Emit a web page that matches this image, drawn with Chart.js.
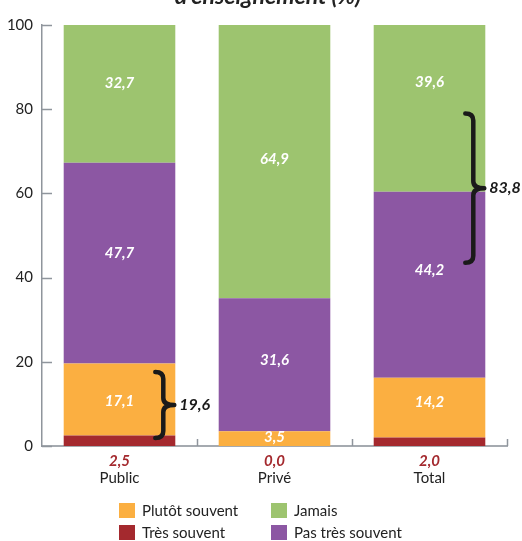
<!DOCTYPE html>
<html lang="fr">
<head>
<meta charset="UTF-8">
<title>Fréquence par secteur d'enseignement (%)</title>
<script src="https://cdn.jsdelivr.net/npm/chart.js"></script>
<style>
    body { margin: 0; background: #fff; font-family: Lato, "Open Sans", sans-serif; }
    #wrap { position: relative; width: 522px; height: 541px; overflow: hidden; }
    #chart { position: absolute; left: 0; top: 0; }
    .legend { position: absolute; left: 0; top: 0; }
    .item { position: absolute; font-size: 15px; color: #222; line-height: 16px; white-space: nowrap; }
    .item span { position: absolute; left: 0; top: 0; width: 16px; height: 15px; }
    .item b { font-weight: normal; position: absolute; left: 23px; top: -1px; }
</style>
</head>
<body>
<div id="wrap">
    <canvas id="chart" width="522" height="541"></canvas>
    <div class="legend" id="legend"></div>
</div>
<script>
// données
const categories = ['Public', 'Privé', 'Total'];
const seriesNames = ['Très souvent', 'Plutôt souvent', 'Pas très souvent', 'Jamais'];
const tresSouvent = [2.5, 0.0, 2.0];
const plutotSouvent = [17.1, 3.5, 14.2];
const pasTresSouvent = [47.7, 31.6, 44.2];
const jamais = [32.7, 64.9, 39.6];
const braceTotals = [19.6, null, 83.8];
const yTicks = [0, 20, 40, 60, 80, 100];

const colors = ['#A4292E', '#FBAF41', '#8C57A3', '#9DC46F'];
const FONT = 'Lato, "Open Sans", sans-serif';
const fmt = v => v.toFixed(1).replace('.', ',');

// petits décalages des étiquettes (px), comme sur l'original
const labelNudge = [null, [2, -1, -6], [-10, -5, -15], [-11, -2, -26]];
// étendue des accolades (en valeurs de l'axe y)
const braceSpan = [[1.9, 17.6], null, [43.5, 79]];

const decorPlugin = {
    id: 'decor',
    afterDraw(chart) {
        const ctx = chart.ctx;
        const x = chart.scales.x, y = chart.scales.y;
        const area = chart.chartArea;
        ctx.save();

        // titre (coupé en haut)
        ctx.fillStyle = '#222';
        ctx.font = 'italic bold 23px ' + FONT;
        ctx.textAlign = 'center';
        ctx.textBaseline = 'alphabetic';
        ctx.fillText("d'enseignement (%)", 268, 4);

        // graduations intérieures
        ctx.strokeStyle = '#8f959c';
        ctx.lineWidth = 1.5;
        yTicks.forEach(t => {
            const py = Math.round(y.getPixelForValue(t)) + 0.5;
            ctx.beginPath();
            ctx.moveTo(area.left, py);
            ctx.lineTo(area.left + 10, py);
            ctx.stroke();
        });
        for (let i = 0; i < categories.length; i++) {
            const px = Math.round(x.getPixelForValue(i) + (x.getPixelForValue(1) - x.getPixelForValue(0)) / 2) + 0.5;
            ctx.beginPath();
            ctx.moveTo(px, area.bottom);
            ctx.lineTo(px, area.bottom - 7);
            ctx.stroke();
        }

        // valeurs dans les barres
        ctx.textAlign = 'center';
        ctx.textBaseline = 'middle';
        ctx.font = 'italic bold 15px ' + FONT;
        ctx.fillStyle = '#fff';
        for (let d = 1; d < 4; d++) {
            const meta = chart.getDatasetMeta(d);
            meta.data.forEach((bar, i) => {
                const v = chart.data.datasets[d].data[i];
                const cy = (bar.y + bar.base) / 2 + labelNudge[d][i];
                ctx.fillText(fmt(v), bar.x, cy);
            });
        }

        // "Très souvent" sous l'axe + catégories
        const m0 = chart.getDatasetMeta(0);
        m0.data.forEach((bar, i) => {
            ctx.fillStyle = colors[0];
            ctx.font = 'italic bold 15px ' + FONT;
            ctx.fillText(fmt(tresSouvent[i]), bar.x, area.bottom + 15);
            ctx.fillStyle = '#222';
            ctx.font = '15px ' + FONT;
            ctx.fillText(categories[i], bar.x, area.bottom + 32);
        });

        // accolades
        const mTop = chart.getDatasetMeta(3);
        braceTotals.forEach((tot, i) => {
            if (tot === null) return;
            const bar = mTop.data[i];
            const stem = bar.x + bar.width / 2 - 12;
            const yT = y.getPixelForValue(braceSpan[i][1]);
            const yB = y.getPixelForValue(braceSpan[i][0]);
            const ym = (yT + yB) / 2;
            const r = 7, a = 8, t = 11;
            ctx.strokeStyle = '#1a1a1a';
            ctx.lineWidth = 4.5;
            ctx.lineCap = 'round';
            ctx.lineJoin = 'round';
            ctx.beginPath();
            ctx.moveTo(stem - a, yT);
            ctx.quadraticCurveTo(stem, yT, stem, yT + r);
            ctx.lineTo(stem, ym - r);
            ctx.quadraticCurveTo(stem, ym, stem + t, ym);
            ctx.quadraticCurveTo(stem, ym, stem, ym + r);
            ctx.lineTo(stem, yB - r);
            ctx.quadraticCurveTo(stem, yB, stem - a, yB);
            ctx.stroke();
            ctx.fillStyle = '#1a1a1a';
            ctx.font = 'italic bold 16px ' + FONT;
            ctx.textAlign = 'left';
            ctx.fillText(fmt(tot), stem + t + 5, ym);
            ctx.textAlign = 'center';
        });

        ctx.restore();
    }
};

const seriesData = [tresSouvent, plutotSouvent, pasTresSouvent, jamais];

new Chart(document.getElementById('chart'), {
    type: 'bar',
    data: {
        labels: categories,
        datasets: seriesNames.map((name, k) => ({
            label: name,
            data: seriesData[k],
            backgroundColor: colors[k],
            borderWidth: 0,
            barPercentage: 0.72,
            categoryPercentage: 1
        }))
    },
    options: {
        responsive: false,
        animation: false,
        layout: { padding: { left: 0, right: 15, top: 25, bottom: 95 } },
        plugins: { legend: { display: false }, tooltip: { enabled: false } },
        scales: {
            x: {
                stacked: true,
                offset: true,
                grid: { display: false, drawTicks: false },
                border: { display: true, color: '#a5aab0', width: 2 },
                ticks: { display: false },
                afterFit(s) { s.height = 0; }
            },
            y: {
                stacked: true,
                min: 0,
                max: 100,
                grid: { display: false, drawTicks: false },
                border: { display: true, color: '#8f959c', width: 1.5 },
                ticks: {
                    stepSize: 20,
                    padding: 9,
                    color: '#222',
                    font: { family: FONT, size: 15 }
                },
                afterFit(s) { s.width = 42; }
            }
        }
    },
    plugins: [decorPlugin]
});

// légende sur deux colonnes
const legendOrder = [[1, 119, 503], [3, 271, 503], [0, 119, 525], [2, 271, 525]];
const legendDiv = document.getElementById('legend');
legendOrder.forEach(([k, lx, ly]) => {
    const it = document.createElement('div');
    it.className = 'item';
    it.style.left = lx + 'px';
    it.style.top = ly + 'px';
    it.innerHTML = '<span style="background:' + colors[k] + '"></span><b>' + seriesNames[k] + '</b>';
    legendDiv.appendChild(it);
});
</script>
</body>
</html>
